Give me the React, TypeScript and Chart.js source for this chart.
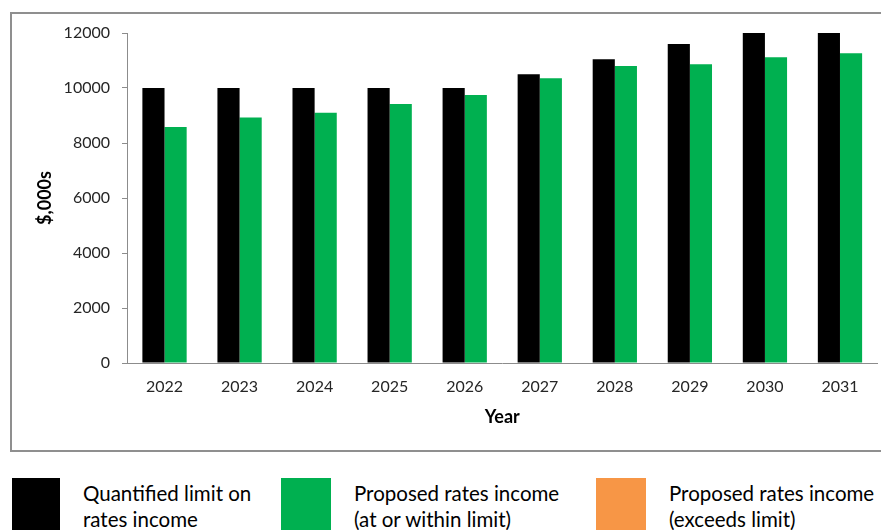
import React, { useEffect, useRef } from "react";
import { Chart, registerables } from "chart.js";

Chart.register(...registerables);

const YEARS = ["2022", "2023", "2024", "2025", "2026", "2027", "2028", "2029", "2030", "2031"];
const LIMIT = [10000, 10000, 10000, 10000, 10000, 10500, 11050, 11600, 12000, 12000];
const WITHIN = [8580, 8930, 9100, 9420, 9745, 10355, 10800, 10860, 11115, 11260];
const EXCEEDS = [0, 0, 0, 0, 0, 0, 0, 0, 0, 0];

const LABEL_LIMIT = ["Quantified limit on", "rates income"];
const LABEL_WITHIN = ["Proposed rates income", "(at or within limit)"];
const LABEL_EXCEEDS = ["Proposed rates income", "(exceeds limit)"];

const COLOR_LIMIT = "#000000";
const COLOR_WITHIN = "#00B050";
const COLOR_EXCEEDS = "#F79646";

const FONT = "Lato, 'Open Sans', sans-serif";

export default function App() {
  const canvasRef = useRef<HTMLCanvasElement | null>(null);

  useEffect(() => {
    document.body.style.margin = "0";
    const canvas = canvasRef.current;
    if (!canvas) return;
    const chart = new Chart(canvas, {
      type: "bar",
      data: {
        labels: YEARS,
        datasets: [
          { label: LABEL_LIMIT.join(" "), data: LIMIT, backgroundColor: COLOR_LIMIT, stack: "limit", borderWidth: 0 },
          { label: LABEL_WITHIN.join(" "), data: WITHIN, backgroundColor: COLOR_WITHIN, stack: "proposed", borderWidth: 0 },
          { label: LABEL_EXCEEDS.join(" "), data: EXCEEDS, backgroundColor: COLOR_EXCEEDS, stack: "proposed", borderWidth: 0 },
        ],
      },
      options: {
        animation: false,
        responsive: false,
        maintainAspectRatio: false,
        layout: { padding: { top: 33, right: 3.5, bottom: 0, left: 0 } },
        datasets: { bar: { categoryPercentage: 0.59, barPercentage: 1.0 } },
        plugins: {
          legend: { display: false },
          tooltip: { enabled: false },
        },
        scales: {
          x: {
            grid: { display: false, drawTicks: false },
            border: { display: true, color: "#8c8c8c", width: 1 },
            ticks: { font: { family: FONT, size: 16 }, color: "#262626", padding: 14 },
            title: {
              display: true,
              text: "Year",
              font: { family: FONT, size: 18, weight: "bold" },
              color: "#000",
              padding: { top: 0, bottom: 22 },
            },
            afterFit: (scale: any) => {
              scale.height = 87;
            },
          },
          y: {
            stacked: true,
            min: 0,
            max: 12000,
            grid: { drawOnChartArea: false, drawTicks: true, tickLength: 5, color: "#8c8c8c" },
            border: { display: true, color: "#8c8c8c", width: 1 },
            ticks: {
              stepSize: 2000,
              font: { family: FONT, size: 16 },
              color: "#262626",
              padding: 12,
              callback: (v: any) => String(v),
            },
            title: {
              display: true,
              text: "$,000s",
              font: { family: FONT, size: 18, weight: "bold" },
              color: "#000",
              padding: { top: 34, bottom: 0 },
            },
            afterFit: (scale: any) => {
              scale.width = 127;
            },
          },
        },
      },
    });
    return () => chart.destroy();
  }, []);

  const legendItems = [
    { lines: LABEL_LIMIT, color: COLOR_LIMIT, boxLeft: 12, boxWidth: 48, textLeft: 83 },
    { lines: LABEL_WITHIN, color: COLOR_WITHIN, boxLeft: 281, boxWidth: 50, textLeft: 354 },
    { lines: LABEL_EXCEEDS, color: COLOR_EXCEEDS, boxLeft: 596, boxWidth: 50, textLeft: 669 },
  ];

  return (
    <div style={{ position: "relative", width: 881, height: 530, overflow: "hidden", background: "#fff" }}>
      <div
        style={{
          position: "absolute",
          left: 10,
          top: 12,
          width: 900,
          height: 440,
          border: "2px solid #8f8f8f",
          boxSizing: "border-box",
        }}
      />
      <canvas ref={canvasRef} width={881} height={450} style={{ position: "absolute", left: 0, top: 0, width: 881, height: 450 }} />
      {legendItems.map((it, i) => (
        <React.Fragment key={i}>
          <div
            style={{
              position: "absolute",
              left: it.boxLeft,
              top: 478,
              width: it.boxWidth,
              height: 70,
              background: it.color,
            }}
          />
          <div
            style={{
              position: "absolute",
              left: it.textLeft,
              top: 480,
              fontFamily: FONT,
              fontSize: 20.5,
              lineHeight: "26px",
              color: "#000",
              whiteSpace: "nowrap",
            }}
          >
            {it.lines.map((l, j) => (
              <div key={j}>{l}</div>
            ))}
          </div>
        </React.Fragment>
      ))}
    </div>
  );
}
